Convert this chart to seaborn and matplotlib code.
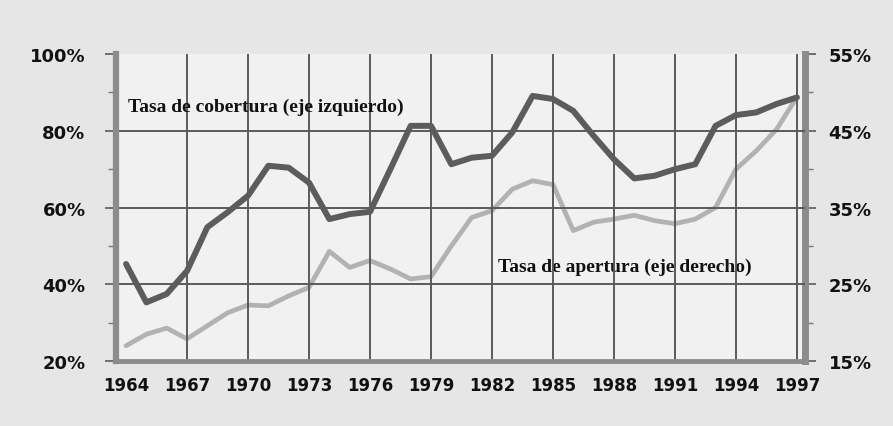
import numpy as np
import pandas as pd
import matplotlib
matplotlib.use("Agg")
import matplotlib.pyplot as plt
import seaborn as sns
from matplotlib.ticker import FuncFormatter, MultipleLocator

years = list(range(1964, 1998))
cobertura = [45.3, 35.3, 37.5, 43.5, 54.9, 58.8, 63.1, 70.9, 70.4, 66.5,
             57.0, 58.3, 58.9, 70.0, 81.3, 81.3, 71.3, 73.0, 73.5, 79.6,
             89.1, 88.3, 85.2, 78.7, 72.6, 67.6, 68.3, 70.0, 71.3, 81.3,
             84.1, 84.8, 87.0, 88.7]
apertura = [17.0, 18.5, 19.3, 17.9, 19.6, 21.3, 22.3, 22.2, 23.5, 24.6,
            29.3, 27.2, 28.1, 27.0, 25.7, 26.0, 30.0, 33.7, 34.6, 37.4,
            38.5, 38.0, 32.0, 33.1, 33.5, 34.0, 33.3, 32.9, 33.5, 35.0,
            40.0, 42.4, 45.2, 49.4]
left_ticks = [20, 40, 60, 80, 100]
right_ticks = [15, 25, 35, 45, 55]
year_ticks = list(range(1964, 1998, 3))
label_cob = "Tasa de cobertura (eje izquierdo)"
label_ape = "Tasa de apertura (eje derecho)"

df = pd.DataFrame({"year": years, "cobertura": cobertura, "apertura": apertura})

sns.set_style("white")
plt.rcParams["font.family"] = ["DejaVu Sans"]

fig = plt.figure(figsize=(8.93, 4.27), dpi=100, facecolor="#e6e6e6")
ax = fig.add_axes([0.130, 0.152, 0.7715, 0.719])
ax2 = ax.twinx()

grid_c = "#5a5a5a"
sns.lineplot(data=df, x="year", y="apertura", ax=ax2, color="#b2b2b2",
             linewidth=3.4, zorder=3)
sns.lineplot(data=df, x="year", y="cobertura", ax=ax, color="#5c5c5c",
             linewidth=4.3, zorder=4)

ax.set_zorder(ax2.get_zorder() + 1)
ax.patch.set_visible(False)
ax2.patch.set_visible(True)
ax2.patch.set_facecolor("#f1f1f1")

ax.set_xlim(1963.51, 1997.40)
ax.set_ylim(20, 100)
ax2.set_ylim(15, 55)

ax.set_xticks(year_ticks)
ax.xaxis.set_minor_locator(MultipleLocator(1))
ax.set_yticks(left_ticks)
ax.yaxis.set_minor_locator(MultipleLocator(10))
ax2.set_yticks(right_ticks)
ax2.yaxis.set_minor_locator(MultipleLocator(5))

pct = FuncFormatter(lambda v, p: f"{v:.0f}%")
ax.yaxis.set_major_formatter(pct)
ax2.yaxis.set_major_formatter(pct)

ax.grid(True, which="major", color=grid_c, linewidth=1.4)
ax.set_axisbelow(True)
ax.get_xgridlines()[0].set_visible(False)
for gl in (ax.get_ygridlines()[0], ax.get_ygridlines()[-1]):
    gl.set_visible(False)

ax.set_xlabel("")
ax.set_ylabel("")
ax2.set_xlabel("")
ax2.set_ylabel("")

ax.tick_params(axis="x", which="major", direction="out", length=5, width=1.2,
               color=grid_c, pad=6, labelsize=12)
ax.tick_params(axis="x", which="minor", direction="in", length=4, width=1,
               color="#777777")
ax.tick_params(axis="y", which="major", direction="out", length=8, width=1.2,
               color=grid_c, pad=14, labelsize=13)
ax.tick_params(axis="y", which="minor", direction="out", length=6, width=1,
               color="#777777")
ax2.tick_params(axis="y", which="major", direction="out", length=8, width=1.2,
                color=grid_c, pad=9, labelsize=13)
ax2.tick_params(axis="y", which="minor", direction="out", length=6, width=1,
                color="#777777")
for lab in ax.get_xticklabels() + ax.get_yticklabels() + ax2.get_yticklabels():
    lab.set_fontweight("bold")
    lab.set_color("#111111")

for a in (ax, ax2):
    a.spines["top"].set_visible(False)
ax.spines["right"].set_visible(False)
ax2.spines["bottom"].set_visible(False)
ax2.spines["left"].set_visible(False)
ax.spines["left"].set_color("#8c8c8c")
ax.spines["left"].set_linewidth(4.5)
ax.spines["bottom"].set_color("#8c8c8c")
ax.spines["bottom"].set_linewidth(3.5)
ax2.spines["right"].set_color("#8c8c8c")
ax2.spines["right"].set_linewidth(5)

ax.text(1964.1, 86.4, label_cob, family="Liberation Serif", fontsize=14,
        fontweight="bold", color="#111111", va="center", ha="left", zorder=6)
ax2.text(1982.3, 27.4, label_ape, family="Liberation Serif", fontsize=14,
         fontweight="bold", color="#111111", va="center", ha="left", zorder=6)

fig.savefig("out.png", dpi=100, facecolor=fig.get_facecolor())
